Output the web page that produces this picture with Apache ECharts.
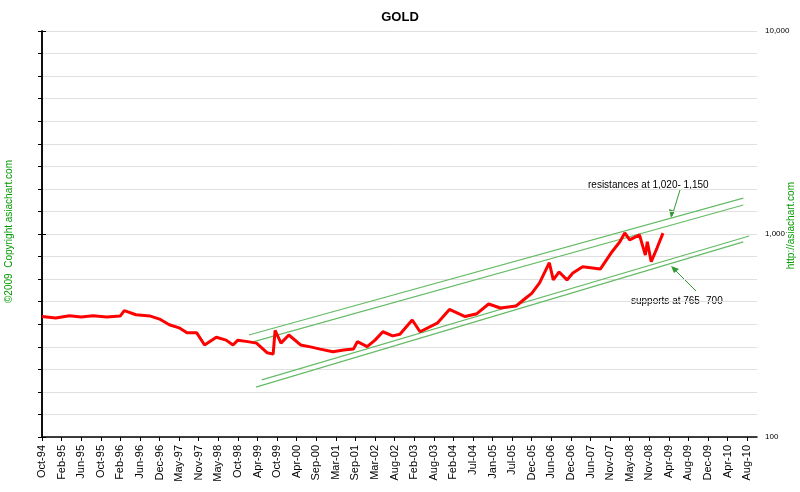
<!DOCTYPE html>
<html>
<head>
<meta charset="utf-8">
<script src="https://cdn.jsdelivr.net/npm/echarts@6/dist/echarts.min.js"></script>
<style>html,body{margin:0;padding:0;background:#fff}#chart{width:800px;height:492px}</style>
</head>
<body>
<div id="chart"></div>
<script>
var tickLabels = ['Oct-94','Feb-95','Jun-95','Oct-95','Feb-96','Jun-96','Dec-96','May-97','Nov-97','May-98',
  'Oct-98','Apr-99','Oct-99','Apr-00','Sep-00','Mar-01','Sep-01','Mar-02','Aug-02','Feb-03','Aug-03',
  'Feb-04','Jul-04','Jan-05','Jul-05','Dec-05','Jun-06','Dec-06','Jun-07','Nov-07','May-08','Nov-08',
  'Apr-09','Aug-09','Dec-09','Apr-10','Aug-10'];

// position along the time axis (label index) and gold price
var goldX = [0, 0.7, 1.4, 2.0, 2.6, 3.3, 4.0, 4.2, 4.8, 5.5, 6.0, 6.5, 7.0, 7.4, 7.9, 8.3, 8.9, 9.4, 9.75, 10.0,
  10.5, 10.95, 11.5, 11.8, 11.9, 12.2, 12.6, 13.2, 13.7, 14.2, 14.85, 15.4, 15.9, 16.1, 16.6, 17.0, 17.4, 17.9,
  18.27, 18.9, 19.3, 20.2, 20.8, 21.6, 22.2, 22.8, 23.4, 24.2, 24.7, 25.0, 25.4, 25.9, 26.1, 26.4, 26.8, 27.1,
  27.6, 28.5, 29.1, 29.5, 29.75, 30.0, 30.5, 30.8, 30.9, 31.1, 31.4, 31.7];
var goldPrice = [392, 386, 396, 390, 396, 390, 395, 419, 400, 395, 381, 357, 345, 326, 326, 284, 310, 300, 284, 300,
  295, 290, 260, 256, 335, 290, 318, 284, 278, 271, 263, 268, 271, 295, 279, 300, 330, 315,
  321, 377, 330, 365, 425, 392, 405, 452, 432, 442, 484, 510, 574, 722, 594, 650, 594, 643,
  690, 672, 818, 916, 1013, 935, 990, 787, 916, 730, 855, 1010];

// trend channels: [startX, startPrice, endX, endPrice]
var resistUpper = [10.56, 318, 35.8, 1503];
var resistLower = [10.77, 294, 35.8, 1390];
var supportUpper = [11.22, 191, 36.1, 978];
var supportLower = [10.92, 176, 35.8, 914];

function seg(a) { return [[a[0], a[1]], [a[2], a[3]]]; }
function trend(a) {
  return { type: 'line', data: seg(a), symbol: 'none', yAxisIndex: 0,
    lineStyle: { color: '#66bb66', width: 1.2 }, silent: true, z: 3 };
}

var goldData = goldX.map(function (x, i) { return [x, goldPrice[i]]; });

var chart = echarts.init(document.getElementById('chart'));
chart.setOption({
  animation: false,
  backgroundColor: '#fff',
  title: { text: 'GOLD', left: 'center', top: 6,
    textStyle: { fontSize: 13, fontWeight: 'bold', color: '#000', fontFamily: 'Liberation Sans' } },
  grid: { left: 42, right: 43, top: 31, bottom: 55 },
  xAxis: {
    type: 'value', min: 0, max: 36.5, interval: 1,
    axisLine: { lineStyle: { color: '#000', width: 1.5 } },
    axisTick: { inside: false, length: 4, lineStyle: { color: '#000' } },
    splitLine: { show: false },
    axisLabel: { rotate: 90, fontSize: 11, color: '#000', fontFamily: 'Liberation Sans', showMaxLabel: false,
      formatter: function (v) { return tickLabels[Math.round(v)] || ''; } }
  },
  yAxis: [
    { type: 'log', logBase: 10, min: 100, max: 10000, position: 'right',
      axisLine: { show: true, lineStyle: { color: '#000', width: 1.5 } },
      axisTick: { show: true, length: 4, lineStyle: { color: '#000' } },
      splitLine: { show: false },
      axisLabel: { fontSize: 8, color: '#000', fontFamily: 'Liberation Sans',
        formatter: function (v) { return v.toLocaleString('en-US'); } } },
    { type: 'value', min: 0, max: 18, interval: 1, position: 'left',
      axisLine: { show: true, lineStyle: { color: '#000', width: 1.5 } },
      axisTick: { show: true, length: 4, lineStyle: { color: '#000' } },
      axisLabel: { show: false },
      splitLine: { lineStyle: { color: '#e0e0e0', width: 1 } } }
  ],
  series: [
    trend(resistUpper), trend(resistLower), trend(supportUpper), trend(supportLower),
    { type: 'line', data: goldData, yAxisIndex: 0, symbol: 'none',
      lineStyle: { color: '#ff0000', width: 3 }, z: 5 }
  ],
  graphic: [
    { type: 'text', left: 4, top: 160, rotation: Math.PI / 2,
      style: { text: '©2009  Copyright asiachart.com', fill: '#009900', font: '10px Liberation Sans' } },
    { type: 'text', left: 786, top: 182, rotation: Math.PI / 2,
      style: { text: 'http://asiachart.com', fill: '#009900', font: '10px Liberation Sans' } },
    { type: 'text', left: 588, top: 180,
      style: { text: 'resistances at 1,020- 1,150', fill: '#000', font: '10px Liberation Sans' } },
    { type: 'text', left: 631, top: 296,
      style: { text: 'supports at 765- 700', fill: '#000', font: '10px Liberation Sans' } },
    { type: 'line', shape: { x1: 680, y1: 190, x2: 672, y2: 216 }, style: { stroke: '#339933', lineWidth: 1 } },
    { type: 'polygon', shape: { points: [[671, 218], [669, 209], [675, 211]] }, style: { fill: '#339933' } },
    { type: 'line', shape: { x1: 696, y1: 291, x2: 673, y2: 268 }, style: { stroke: '#339933', lineWidth: 1 } },
    { type: 'polygon', shape: { points: [[671, 266], [679, 269], [674, 273]] }, style: { fill: '#339933' } }
  ]
});
</script>
</body>
</html>
